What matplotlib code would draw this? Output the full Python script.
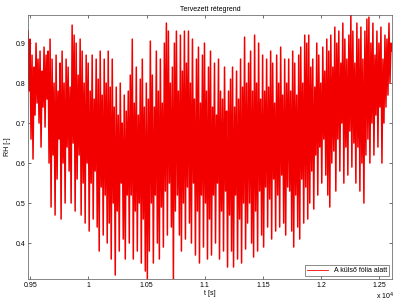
import numpy as np
import matplotlib
matplotlib.use("Agg")
import matplotlib.pyplot as plt

# peaks (highs) and troughs (lows), left to right
highs = [0.93, 0.91, 0.87, 0.84, 0.9, 0.86, 0.88, 0.83, 0.89, 0.87,
         0.88, 0.91, 0.86, 0.8, 0.87, 0.78, 0.85, 0.88, 0.8, 0.86,
         0.84, 0.79, 0.945, 0.92, 0.9, 0.82, 0.91, 0.88, 0.8, 0.87,
         0.85, 0.78, 0.87, 0.76, 0.86, 0.81, 0.88, 0.77, 0.86, 0.8,
         0.88, 0.79, 0.86, 0.74, 0.79, 0.72, 0.8, 0.7, 0.77, 0.73,
         0.78, 0.82, 0.91, 0.75, 0.84, 0.72, 0.81, 0.86, 0.74, 0.8,
         0.76, 0.905, 0.82, 0.74, 0.88, 0.78, 0.86, 0.75, 0.9, 0.95,
         0.93, 0.8, 0.84, 0.9, 0.93, 0.78, 0.92, 0.83, 0.93, 0.85,
         0.93, 0.8, 0.91, 0.76, 0.86, 0.89, 0.75, 0.87, 0.9, 0.78,
         0.84, 0.88, 0.74, 0.85, 0.72, 0.86, 0.78, 0.76, 0.84, 0.73,
         0.78, 0.81, 0.84, 0.74, 0.83, 0.76, 0.86, 0.79, 0.915, 0.8,
         0.85, 0.88, 0.78, 0.92, 0.8, 0.9, 0.76, 0.87, 0.78, 0.86,
         0.79, 0.88, 0.85, 0.75, 0.87, 0.8, 0.89, 0.77, 0.86, 0.8,
         0.86, 0.78, 0.88, 0.85, 0.77, 0.87, 0.89, 0.8, 0.92, 0.9,
         0.92, 0.84, 0.86, 0.79, 0.9, 0.87, 0.8, 0.89, 0.83, 0.91,
         0.88, 0.92, 0.84, 0.94, 0.9, 0.93, 0.85, 0.95, 0.91, 0.86,
         0.92, 0.97, 0.93, 0.85, 0.95, 0.91, 0.94, 0.86, 0.93, 0.96,
         0.965, 0.9, 0.95, 0.87, 0.93, 0.9, 0.94, 0.86, 0.92, 0.91, 0.95, 0.9]
lows = [0.78, 0.66, 0.61, 0.72, 0.75, 0.7, 0.64, 0.74, 0.69, 0.76,
        0.6, 0.49, 0.62, 0.47, 0.56, 0.66, 0.46, 0.6, 0.5, 0.64,
        0.58, 0.5, 0.65, 0.48, 0.56, 0.62, 0.47, 0.55, 0.45, 0.6,
        0.43, 0.55, 0.46, 0.58, 0.44, 0.38, 0.54, 0.42, 0.52, 0.4,
        0.45, 0.36, 0.5, 0.32, 0.48, 0.38, 0.55, 0.41, 0.36, 0.52,
        0.4, 0.52, 0.36, 0.48, 0.38, 0.5, 0.35, 0.46, 0.33, 0.31,
        0.38, 0.5, 0.35, 0.52, 0.4, 0.36, 0.49, 0.39, 0.53, 0.42,
        0.55, 0.44, 0.31, 0.48, 0.52, 0.42, 0.38, 0.5, 0.41, 0.54,
        0.45, 0.4, 0.55, 0.37, 0.48, 0.35, 0.52, 0.39, 0.5, 0.36,
        0.46, 0.37, 0.52, 0.4, 0.55, 0.36, 0.48, 0.38, 0.53, 0.34,
        0.47, 0.38, 0.34, 0.52, 0.36, 0.46, 0.35, 0.5, 0.385, 0.45,
        0.5, 0.4, 0.365, 0.48, 0.38, 0.53, 0.42, 0.39, 0.54, 0.44,
        0.51, 0.41, 0.56, 0.43, 0.52, 0.44, 0.57, 0.45, 0.42, 0.54,
        0.53, 0.43, 0.39, 0.52, 0.44, 0.41, 0.56, 0.45, 0.54, 0.46,
        0.5, 0.58, 0.485, 0.62, 0.52, 0.64, 0.55, 0.66, 0.57, 0.52,
        0.49, 0.6, 0.63, 0.53, 0.66, 0.58, 0.7, 0.55, 0.64, 0.57,
        0.68, 0.59, 0.65, 0.55, 0.64, 0.53, 0.6, 0.5, 0.62, 0.66,
        0.6, 0.7, 0.62, 0.72, 0.64, 0.74, 0.6, 0.7, 0.74, 0.77, 0.8, 0.88]

t_start, t_end = 9480, 12610
xticks = [9500, 10000, 10500, 11000, 11500, 12000, 12500]
xticklabels = ["0.95", "1", "1.05", "1.1", "1.15", "1.2", "1.25"]
yticks = [0.4, 0.5, 0.6, 0.7, 0.8, 0.9]

rh = np.empty(2 * len(highs))
rh[0::2] = highs
rh[1::2] = lows
t = np.linspace(t_start, t_end, len(rh))

plt.rcParams['font.family'] = ['Liberation Sans', 'DejaVu Sans']
plt.rcParams['font.size'] = 5

fig = plt.figure(figsize=(4.15, 3.02), dpi=100)
ax = fig.add_axes([0.0675, 0.076, 0.877, 0.874])
ax.plot(t, rh, color='#f20000', linewidth=1.1, label='A külső fólia alatt')

ax.set_xlim(t_start, t_end)
ax.set_ylim(0.31, 0.97)
ax.set_xticks(xticks)
ax.set_xticklabels(xticklabels)
ax.set_yticks(yticks)
ax.tick_params(direction='in', length=2.5, width=0.4, top=True, right=True, pad=2)
for s in ax.spines.values():
    s.set_linewidth(0.5)
    s.set_color('#555555')

ax.set_title('Tervezett rétegrend', fontsize=5, pad=3)
ax.set_xlabel('t [s]', labelpad=1)
ax.set_ylabel('RH [-]', labelpad=3)
ax.text(1.005, -0.045, 'x 10$^4$', transform=ax.transAxes, ha='right', va='top', fontsize=5)

leg = ax.legend(loc='lower right', fontsize=5, frameon=True, fancybox=False,
                handlelength=3, handleheight=0.5, borderpad=0.3, borderaxespad=0.4)
leg.get_frame().set_edgecolor('#333333')
leg.get_frame().set_linewidth(0.5)
for h in leg.get_lines():
    h.set_linewidth(0.6)

plt.savefig('out.png', dpi=100)
